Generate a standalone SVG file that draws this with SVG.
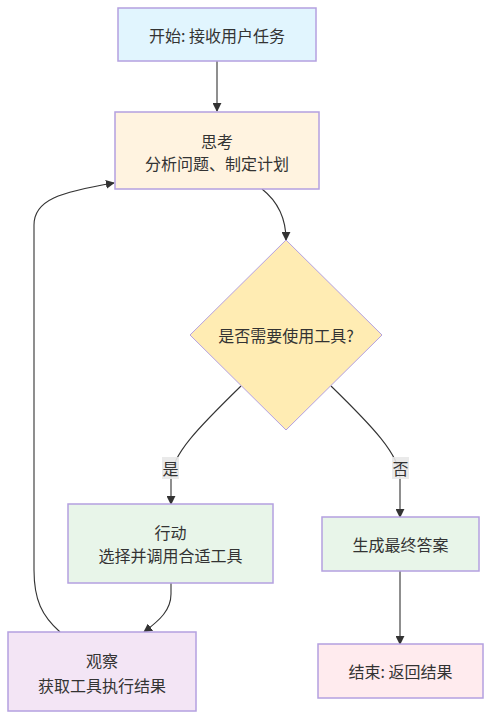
<svg xmlns="http://www.w3.org/2000/svg" width="491" height="719" viewBox="0 0 491 719">
<style>
text{font-family:"Noto Sans CJK SC","Liberation Sans",sans-serif;font-size:16px;fill:#333;text-anchor:middle;dominant-baseline:central}
.node{stroke:#b4a0e0;stroke-width:1.5}
.edge{fill:none;stroke:#333;stroke-width:1.1}
.lbl{fill:#e8e8e8;opacity:0.9}
</style>
<defs>
<marker id="arr" viewBox="0 0 10 10" refX="9" refY="5" markerWidth="9" markerHeight="9" markerUnits="userSpaceOnUse" orient="auto">
<path d="M0,0 L10,5 L0,10 z" fill="#333"/>
</marker>
</defs>
<rect width="491" height="719" fill="#fff"/>
<g id="edges">
<path class="edge" d="M217,61 L217,111" marker-end="url(#arr)"/>
<path class="edge" d="M262,189 Q286,208 286,240" marker-end="url(#arr)"/>
<path class="edge" d="M241,386 C200,426 171,455 171,478 L171,504" marker-end="url(#arr)"/>
<path class="edge" d="M331,386 C372,426 400,455 400,478 L400,517" marker-end="url(#arr)"/>
<path class="edge" d="M171,583 L171,594 C171,610 160,620 144,632" marker-end="url(#arr)"/>
<path class="edge" d="M60,632 C42,616 34,600 34,570 L34,225 C34,200 60,192 114,183" marker-end="url(#arr)"/>
<path class="edge" d="M400,571 L400,644" marker-end="url(#arr)"/>
<rect class="lbl" x="162" y="457" width="17" height="22"/>
<text x="170.5" y="468">是</text>
<rect class="lbl" x="392" y="457" width="17" height="22"/>
<text x="400.5" y="468">否</text>
</g>
<g id="start">
<rect class="node" x="118" y="8" width="198" height="53" fill="#e1f5fe"/>
<text x="217" y="34.5">开始: 接收用户任务</text>
</g>
<g id="think">
<rect class="node" x="115" y="112" width="204" height="77" fill="#fff3e0"/>
<text x="217" y="141">思考</text>
<text x="217" y="163">分析问题、制定计划</text>
</g>
<g id="decide">
<polygon class="node" points="286,240 382,335 286,430 190,335" fill="#ffecb3" style="stroke-width:1"/>
<text x="286" y="335">是否需要使用工具?</text>
</g>
<g id="action">
<rect class="node" x="68" y="504" width="205" height="79" fill="#e8f5e9"/>
<text x="170.5" y="532">行动</text>
<text x="170.5" y="555">选择并调用合适工具</text>
</g>
<g id="answer">
<rect class="node" x="322" y="517" width="157" height="54" fill="#e8f5e9"/>
<text x="400.5" y="544">生成最终答案</text>
</g>
<g id="observe">
<rect class="node" x="8" y="632" width="188" height="79" fill="#f3e5f5"/>
<text x="102" y="660">观察</text>
<text x="102" y="685">获取工具执行结果</text>
</g>
<g id="end">
<rect class="node" x="318" y="644" width="165" height="54" fill="#ffebee"/>
<text x="400.5" y="671">结束: 返回结果</text>
</g>
</svg>
